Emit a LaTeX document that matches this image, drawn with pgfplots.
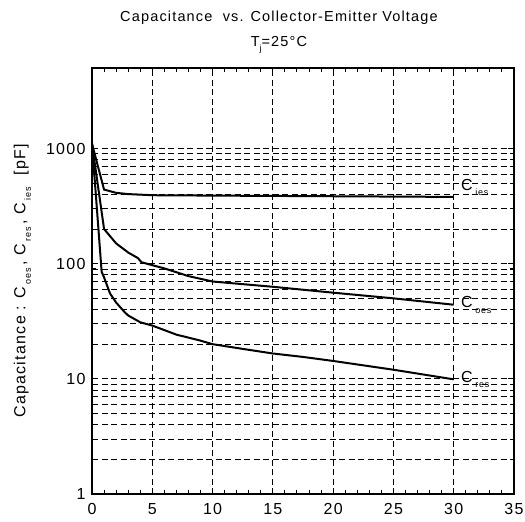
\documentclass[border=0pt]{standalone}
\usepackage{fontspec}
\setmainfont{Liberation Sans}[LetterSpace=8]
\usepackage{pgfplots}
\pgfplotsset{compat=1.18}
\newcommand\sub[1]{\raisebox{-0.65ex}{\fontsize{9}{9}\selectfont #1}}
\newcommand\lab[1]{\fontsize{16}{18}\selectfont C\,\sub{#1}}
\begin{document}
\begin{tikzpicture}
\begin{axis}[
 scale only axis, width=422pt, height=426pt,
 xmin=0, xmax=35, ymin=1, ymax=5000, ymode=log,
 xtick={0,5,...,35}, minor x tick num=4,
 ytick={1,10,100,1000}, yticklabels={1,10,100,1000},
 xtick pos=both, ytick pos=both, tick align=inside,
 major tick length=6pt, minor tick length=4pt,
 xmajorgrids, ymajorgrids, yminorgrids,
 major grid style={black, line width=0.8pt, dash pattern=on 6pt off 3.5pt},
 minor grid style={black, line width=0.8pt, dash pattern=on 6pt off 3.5pt},
 axis line style={line width=1.4pt},
 every tick/.style={black, line width=1pt},
 tick label style={font=\fontsize{16}{18}\selectfont},
 xticklabel style={yshift=-6pt},
 yticklabel style={xshift=-3pt},
 /pgf/number format/assume math mode=true,
 ylabel={\fontsize{16}{18}\selectfont Capacitance : C\,\sub{oes}\,, C\,\sub{res}\,, C\,\sub{ies}\ \ [pF]},
 ylabel style={at={(axis description cs:-0.165,0.5)}, anchor=center},
 clip=false,
]
% C_ies
\addplot[black, line width=2pt] coordinates {(0,1100) (1,440) (2,412) (3,402) (5,393) (10,390) (20,385) (30,380)};
% C_oes
\addplot[black, line width=2pt] coordinates {(0,1100) (1,200) (2,150) (3,125) (3.8,112) (4.1,103) (5,97) (6,91) (8,78) (10,70) (15,63) (20,56) (25,50) (30,44)};
% C_res
\addplot[black, line width=2pt] coordinates {(0,1100) (0.8,85) (1,76) (1.5,55) (2,46) (2.7,38) (3,35.5) (4,31) (5,29) (6,26.5) (7,24.2) (8.9,21.6) (10,20) (12.5,18.2) (15,16.6) (17.5,15.5) (20,14.3) (25,12) (30,9.9)};
\node[anchor=west, inner sep=0pt] at (axis cs:30.6,460) {\lab{ies}};
\node[anchor=west, inner sep=0pt] at (axis cs:30.6,44) {\lab{oes}};
\node[anchor=west, inner sep=0pt] at (axis cs:30.6,9.9) {\lab{res}};
\node[font=\fontsize{14.5}{16}\selectfont] at (axis description cs:0.443,1.117) {Capacitance\ \ vs. Collector-Emitter Voltage};
\node[font=\fontsize{14.5}{16}\selectfont] at (axis description cs:0.443,1.054) {T\sub{j}=25°C};
\end{axis}
\pgfresetboundingbox
\path ([shift={(-92pt,-27pt)}]current axis.south west) rectangle ([shift={(11pt,68pt)}]current axis.north east);
\end{tikzpicture}
\end{document}
